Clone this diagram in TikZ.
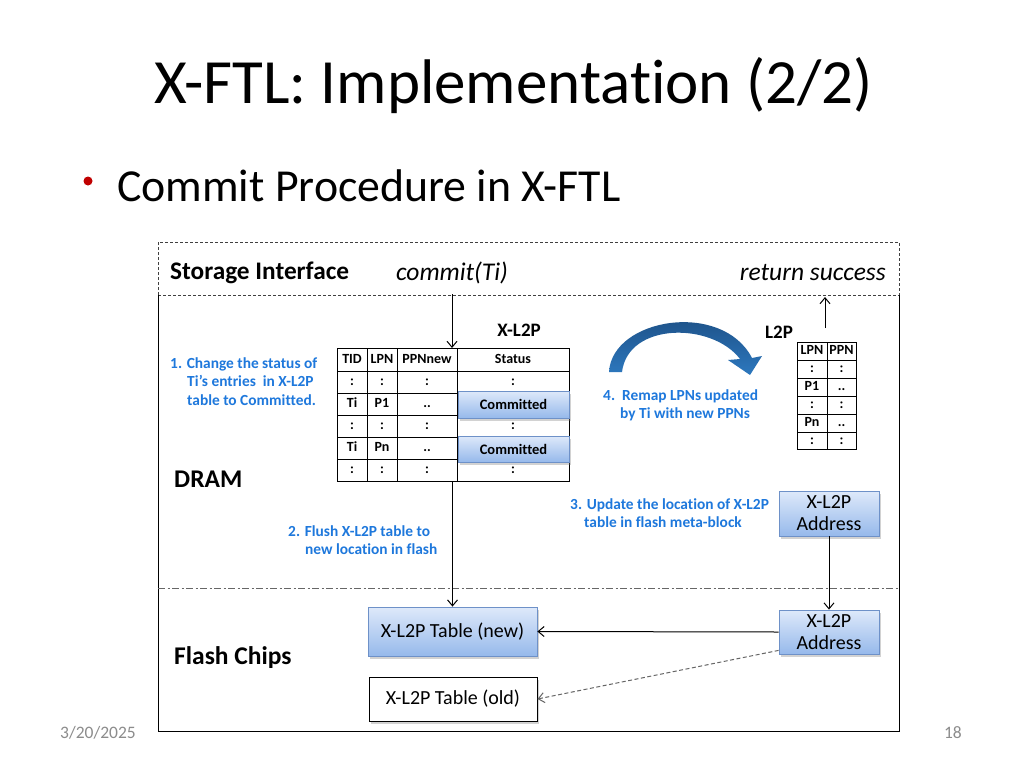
\documentclass[tikz,border=0pt]{standalone}
\usepackage{fontspec}
\setmainfont{Carlito}[Ligatures={NoCommon}]
\usetikzlibrary{shadows,arrows.meta}
\definecolor{myblue}{RGB}{30,120,220}
\definecolor{bulletred}{RGB}{192,0,0}
\definecolor{boxtop}{RGB}{222,233,250}
\definecolor{boxbot}{RGB}{150,185,235}
\definecolor{boxline}{RGB}{110,145,200}
\definecolor{arctop}{RGB}{25,70,120}
\definecolor{arcbot}{RGB}{45,120,190}
\definecolor{footgray}{RGB}{140,140,140}
\tikzset{
  fs/.style={font=\fontsize{#1}{#1}\selectfont},
  fsb/.style={font=\fontsize{#1}{#1}\selectfont\bfseries},
  tb/.style={fsb=14, inner sep=0pt, text height=9.5pt, text depth=3pt},
  bluetxt/.style={fsb=15.4, text=myblue, align=left, inner sep=0pt, anchor=north west},
  bluebox/.style={draw=boxline, line width=0.8pt, top color=boxtop, bottom color=boxbot,
    drop shadow={shadow xshift=1.5pt, shadow yshift=-2.5pt, opacity=0.35}},
  plainbox/.style={draw=black, line width=1pt, fill=white,
    drop shadow={shadow xshift=1.5pt, shadow yshift=-2.5pt, opacity=0.35}},
  arr/.style={line width=1pt, -{Straight Barb[length=6pt,width=10pt]}},
  dashedline/.style={draw=black!75, line width=0.9pt, dash pattern=on 3pt off 2pt},
  dashdotline/.style={draw=black!60, line width=0.9pt, dash pattern=on 7pt off 2.5pt on 2pt off 2.5pt},
  frame/.style={draw=black, line width=1pt},
  grid/.style={draw=black, line width=1pt}
}
\begin{document}
\begin{tikzpicture}[x=1pt,y=-1pt]
\useasboundingbox (0,0) rectangle (1024,768);
\fill[white] (0,0) rectangle (1024,768);

% title and bullet
\node[fs=63, anchor=west, inner sep=0pt] (title) at (154,86) {X-FTL: Implementation (2/2)};
\node[circle, fill=bulletred, inner sep=0pt, minimum size=9pt] (bul) at (88,181) {};
\node[fs=45.8, anchor=west, inner sep=0pt] (bullet) at (117,186) {Commit Procedure in X-FTL};

% frames
\draw[dashedline] (158,295) -- (158,242) -- (899,242) -- (899,295);
\draw[dashedline] (158,295) -- (899,295);
\draw[frame] (158,295) -- (158,731) -- (899,731) -- (899,295);
\draw[dashdotline] (158,588) -- (899,588);

% storage interface row
\node[fsb=25.3, anchor=west, inner sep=0pt] (si) at (170,273) {Storage Interface};
\node[fs=25.5, anchor=center, inner sep=0pt] (commit) at (452,273) {\itshape commit(Ti)};
\node[fs=25.5, anchor=east, inner sep=0pt] (ret) at (886,273) {\itshape return success};

% X-L2P table
\node[fsb=19, inner sep=0pt] (xl2plbl) at (519,330) {X-L2P};
\node[draw=none, minimum width=232pt, minimum height=133pt, inner sep=0pt, anchor=north west] (xtab) at (337,348) {};
\draw[grid] (337,348) rectangle (569,481);
\foreach \y in {371,393,415,437,459} \draw[grid] (337,\y) -- (569,\y);
\foreach \x in {367,397,457} \draw[grid] (\x,348) -- (\x,481);
% header
\node[tb] (h1) at (352,360) {TID};
\node[tb] (h2) at (382,360) {LPN};
\node[tb] (h3) at (427,360) {PPNnew};
\node[tb] (h4) at (513,360) {Status};
% rows
\foreach \y in {382,426,470}{
  \node[tb] at (352,\y) {:};
  \node[tb] at (382,\y) {:};
  \node[tb] at (427,\y) {:};
  \node[tb] at (513,\y) {:};
}
\node[tb] (r1a) at (352,404) {Ti};
\node[tb] (r1b) at (382,404) {P1};
\node[tb] (r1c) at (427,404) {..};
\node[tb] (rna) at (352,448) {Ti};
\node[tb] (rnb) at (382,448) {Pn};
\node[tb] (rnc) at (427,448) {..};
\node[bluebox, minimum width=111pt, minimum height=27pt, inner sep=0pt, fsb=14.5] (com1) at (513.5,404.5) {Committed};
\node[bluebox, minimum width=111pt, minimum height=26pt, inner sep=0pt, fsb=14.5] (com2) at (513.5,449) {Committed};

% commit arrow
\coordinate (cmtop) at (452,294);
\draw[arr] (cmtop) -- (cmtop |- xtab.north);

% step 1 text
\node[bluetxt] (s1) at (170,357) {1. Change the status of\\[3.5pt]\hspace*{17pt}Ti’s entries\ \ in X-L2P\\[3.5pt]\hspace*{17pt}table to Committed.};

% DRAM
\node[fsb=25.5, anchor=west, inner sep=0pt] (dram) at (174,479) {DRAM};

% curved arrow (step 4)
\path[top color=arctop, bottom color=arcbot, shading angle=0]
  (609,372) .. controls (612,318) and (722,300) .. (752,358)
  -- (762,356) -- (750,375) -- (728,360) -- (740,359)
  .. controls (712,322) and (628,322) .. (622,372) -- cycle;
\node[bluetxt] (s4) at (603,389) {4.\ \ Remap LPNs updated\\[3pt]\hspace*{17pt}by Ti with new PPNs};

% L2P table
\node[fsb=19, inner sep=0pt] (l2plbl) at (779,332) {L2P};
\node[draw=none, minimum width=59pt, minimum height=107pt, inner sep=0pt, anchor=north west] (ltab) at (797,342) {};
\draw[grid] (797,342) rectangle (856,449);
\foreach \y in {360,378,396,414,432} \draw[grid] (797,\y) -- (856,\y);
\draw[grid] (827,342) -- (827,449);
\node[tb] (lh1) at (812,351.5) {LPN};
\node[tb] (lh2) at (841.5,351.5) {PPN};
\foreach \y in {369.5,405.5,441.5}{
  \node[tb] at (812,\y) {:};
  \node[tb] at (841.5,\y) {:};
}
\node[tb] (l1a) at (812,387.5) {P1};
\node[tb] (l1b) at (841.5,387.5) {..};
\node[tb] (lna) at (812,423.5) {Pn};
\node[tb] (lnb) at (841.5,423.5) {..};

% return arrow
\coordinate (rbot) at (825,328);
\coordinate (rtop) at (825,297);
\draw[arr] (rbot) -- (rtop);

% step 3
\node[bluetxt] (s3) at (570,498) {3. Update the location of X-L2P\\[3pt]\hspace*{14pt}table in flash meta-block};
\node[bluebox, minimum width=100pt, minimum height=45pt, inner sep=0pt, fs=20, align=center] (addr1) at (829,513.5) {X-L2P\\[2pt]Address};

% step 2
\node[bluetxt] (s2) at (288,525) {2. Flush X-L2P table to\\[3pt]\hspace*{17pt}new location in flash};

% flash
\node[fsb=25.5, anchor=west, inner sep=0pt] (flash) at (174,658) {Flash Chips};
\node[bluebox, minimum width=169pt, minimum height=49pt, inner sep=0pt, fs=20] (tnew) at (452.5,631.5) {X-L2P Table (new)};
\node[plainbox, minimum width=168pt, minimum height=44pt, inner sep=0pt, fs=20] (told) at (453,699) {X-L2P Table (old)};
\node[bluebox, minimum width=100pt, minimum height=44pt, inner sep=0pt, fs=20, align=center] (addr2) at (829,632) {X-L2P\\[2pt]Address};

% connectors
\draw[arr] (tnew.north |- xtab.south) -- (tnew.north);
\draw[arr] (addr1.south) -- (addr2.north);
\draw[arr] (addr2.west) -- (tnew.east);
\draw[arr, draw=black!60, dash pattern=on 4pt off 2.5pt] (addr2.south west) ++(0,-4) coordinate (dstart) (dstart) -- (told.east);

% footer
\node[fs=17.5, text=footgray, anchor=west, inner sep=0pt] (date) at (60,733) {3/20/2025};
\node[fs=17.5, text=footgray, anchor=east, inner sep=0pt] (page) at (962,733) {18};
\end{tikzpicture}
\end{document}
